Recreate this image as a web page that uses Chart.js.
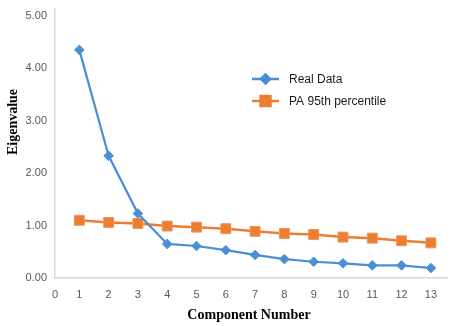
<!DOCTYPE html>
<html>
<head>
<meta charset="utf-8">
<script src="https://cdn.jsdelivr.net/npm/chart.js@4/dist/chart.umd.min.js"></script>
<style>
  html, body { margin: 0; padding: 0; background: #fff; }
  #wrap { width: 459px; height: 326px; }
</style>
</head>
<body>
<div id="wrap"><canvas id="screeChart"></canvas></div>
<script>
// component numbers and eigenvalues
const components = [1, 2, 3, 4, 5, 6, 7, 8, 9, 10, 11, 12, 13];
const realData = [4.35, 2.33, 1.23, 0.65, 0.61, 0.53, 0.44, 0.36, 0.31, 0.28, 0.24, 0.24, 0.19];
const pa95 = [1.10, 1.06, 1.04, 0.99, 0.97, 0.94, 0.89, 0.85, 0.83, 0.78, 0.76, 0.71, 0.67];
const xTicks = [0, 1, 2, 3, 4, 5, 6, 7, 8, 9, 10, 11, 12, 13];
const yTicks = [0, 1, 2, 3, 4, 5];

const blue = '#4a8ed6';
const orange = '#ed7d31';
const tickFont = { family: 'Liberation Sans', size: 11 };
const titleFont = 'bold 14px "Liberation Serif"';

//################### Legend + axis titles drawn by hand ###################
const decorPlugin = {
    id: 'decor',
    afterDraw(chart) {
        const ctx = chart.ctx;
        ctx.save();
        // legend
        const items = [
            { label: 'Real Data', color: blue, style: 'rectRot', r: 4.5, y: 79 },
            { label: 'PA 95th percentile', color: orange, style: 'rect', r: 7, y: 101 }
        ];
        items.forEach(it => {
            ctx.strokeStyle = it.color;
            ctx.lineWidth = 2.5;
            ctx.beginPath();
            ctx.moveTo(252, it.y);
            ctx.lineTo(279, it.y);
            ctx.stroke();
            ctx.fillStyle = it.color;
            Chart.helpers.drawPoint(ctx, { pointStyle: it.style, radius: it.r, borderWidth: 1 }, 265.5, it.y);
            ctx.fill();
            ctx.fillStyle = '#1a1a1a';
            ctx.font = '12px "Liberation Sans"';
            ctx.textAlign = 'left';
            ctx.textBaseline = 'middle';
            ctx.fillText(it.label, 289, it.y + 0.5);
        });
        // axis titles
        ctx.fillStyle = '#000';
        ctx.font = titleFont;
        ctx.textAlign = 'center';
        ctx.textBaseline = 'middle';
        ctx.fillText('Component Number', 249, 315);
        ctx.translate(13, 122);
        ctx.rotate(-Math.PI / 2);
        ctx.fillText('Eigenvalue', 0, 0);
        ctx.restore();
    }
};

new Chart(document.getElementById('screeChart').getContext('2d'), {
    type: 'line',
    data: {
        datasets: [{
            label: 'Real Data',
            data: components.map((c, i) => ({ x: c, y: realData[i] })),
            borderColor: blue,
            backgroundColor: blue,
            borderWidth: 2.2,
            pointStyle: 'rectRot',
            pointRadius: 4.8,
            pointBorderWidth: 1,
            tension: 0
        }, {
            label: 'PA 95th percentile',
            data: components.map((c, i) => ({ x: c, y: pa95[i] })),
            borderColor: orange,
            backgroundColor: orange,
            borderWidth: 2.5,
            pointStyle: 'rect',
            pointRadius: 7,
            pointBorderColor: '#f0925a',
            pointBorderWidth: 1,
            tension: 0
        }]
    },
    options: {
        responsive: true,
        maintainAspectRatio: false,
        animation: false,
        layout: { padding: { top: 9, right: 12, left: 0, bottom: 0 } },
        plugins: {
            legend: { display: false },
            tooltip: { enabled: false }
        },
        scales: {
            x: {
                type: 'linear',
                min: 0.17,
                max: 13.55,
                afterBuildTicks: (scale) => {
                    scale.ticks = xTicks.map(v => ({ value: Math.max(v, scale.min) }));
                },
                afterFit: (scale) => {
                    scale.height = 48;
                    scale.paddingLeft = 0;
                    scale.paddingRight = 0;
                },
                grid: { drawOnChartArea: false, drawTicks: false },
                border: { display: true, color: '#d9d9d9', width: 1.5 },
                ticks: {
                    padding: 10,
                    maxRotation: 0,
                    autoSkip: false,
                    color: '#595959',
                    font: tickFont,
                    callback: (v, i) => String(xTicks[i])
                }
            },
            y: {
                min: 0,
                max: 5.13,
                afterBuildTicks: (scale) => {
                    scale.ticks = yTicks.map(v => ({ value: v }));
                },
                afterFit: (scale) => {
                    scale.width = 55;
                    scale.paddingTop = 0;
                    scale.paddingBottom = 0;
                },
                grid: { drawOnChartArea: false, drawTicks: false },
                border: { display: true, color: '#d9d9d9', width: 1.5 },
                ticks: {
                    padding: 8,
                    color: '#595959',
                    font: tickFont,
                    callback: (v) => v.toFixed(2)
                }
            }
        }
    },
    plugins: [decorPlugin]
});
</script>
</body>
</html>
